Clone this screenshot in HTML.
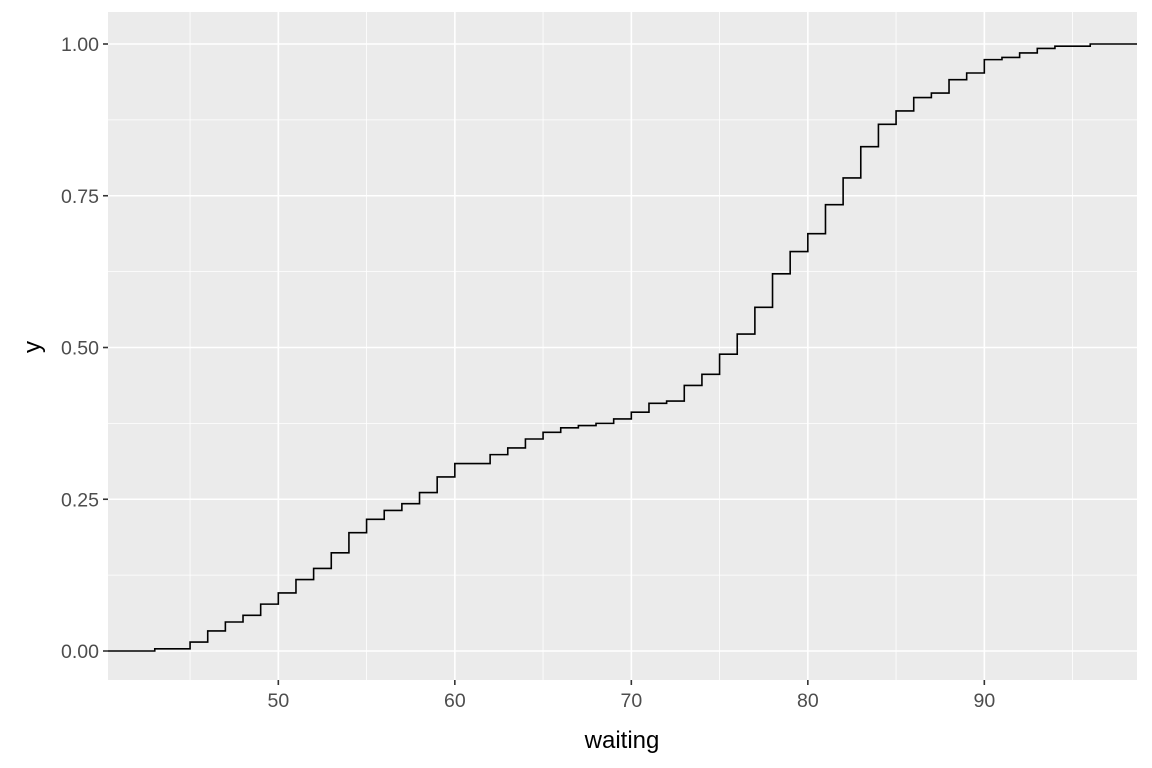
<!DOCTYPE html>
<html><head><meta charset="utf-8"><style>
body{margin:0;background:#fff;}
svg{display:block;font-family:"Liberation Sans",Arial,sans-serif;}
</style></head><body>
<svg id="chart" width="1152" height="768" viewBox="0 0 1152 768">
<rect x="108" y="12" width="1029" height="668" fill="#ebebeb"/>
<g id="grid"></g>
<g id="axes"></g>
<path id="ecdf" fill="none" stroke="#000" stroke-width="1.6"/>
<text x="622" y="748" font-size="24" text-anchor="middle">waiting</text>
<text x="0" y="0" font-size="24" text-anchor="middle" transform="translate(40,347) rotate(-90)">y</text>
</svg>
<script>
const waitingValues=[43,45,46,47,48,49,50,51,52,53,54,55,56,57,58,59,60,62,63,64,65,66,67,68,69,70,71,72,73,74,75,76,77,78,79,80,81,82,83,84,85,86,87,88,89,90,91,92,93,94,96];
const waitingCounts=[1,3,5,4,3,5,5,6,5,7,9,6,4,3,5,7,6,4,3,4,3,2,1,1,2,3,4,1,7,5,9,9,12,15,10,8,13,12,14,10,6,6,2,6,3,6,1,2,2,1,1];
const xTicks=[50,60,70,80,90];
const xMinor=[45,55,65,75,85,95];
const yTicks=[0,0.25,0.5,0.75,1];
const yTickLabels=["0.00","0.25","0.50","0.75","1.00"];
const yMinor=[0.125,0.375,0.625,0.875];
const L=108,R=1137,T=12,B=680;
const x0=40.35,x1=98.65;
const sx=v=>L+(v-x0)/(x1-x0)*(R-L);
const sy=v=>651-v*607;
const NS="http://www.w3.org/2000/svg";
const grid=document.getElementById('grid'),axes=document.getElementById('axes');
function mk(tag,attrs,parent){const e=document.createElementNS(NS,tag);for(const k in attrs)e.setAttribute(k,attrs[k]);parent.appendChild(e);return e;}
xMinor.forEach(v=>{const e=mk('line',{x1:sx(v),x2:sx(v),y1:T,y2:B,stroke:'#fff','stroke-width':0.8},grid);

});
yMinor.forEach(v=>{const e=mk('line',{x1:L,x2:R,y1:sy(v),y2:sy(v),stroke:'#fff','stroke-width':0.8},grid);

});
xTicks.forEach(v=>{const e=mk('line',{x1:sx(v),x2:sx(v),y1:T,y2:B,stroke:'#fff','stroke-width':1.6},grid);


const t=mk('line',{x1:sx(v),x2:sx(v),y1:B,y2:B+5,stroke:'#333','stroke-width':1.6},axes);


const l=mk('text',{x:sx(v),y:B+27,'font-size':19.5,fill:'#4d4d4d','text-anchor':'middle'},axes);l.textContent=v;

});
yTicks.forEach((v,i)=>{const e=mk('line',{x1:L,x2:R,y1:sy(v),y2:sy(v),stroke:'#fff','stroke-width':1.6},grid);


const t=mk('line',{x1:L-5,x2:L,y1:sy(v),y2:sy(v),stroke:'#333','stroke-width':1.6},axes);


const l=mk('text',{x:L-9,y:sy(v)+7,'font-size':19.5,fill:'#4d4d4d','text-anchor':'end'},axes);l.textContent=yTickLabels[i];

});
const n=waitingCounts.reduce((a,b)=>a+b,0);
let cum=0,d=`M${L},${sy(0)}`;
waitingValues.forEach((v,i)=>{d+=` H${sx(v)}`;cum+=waitingCounts[i];d+=` V${sy(cum/n)}`;});
d+=` H${R}`;
document.getElementById('ecdf').setAttribute('d',d);
</script>
</body></html>
